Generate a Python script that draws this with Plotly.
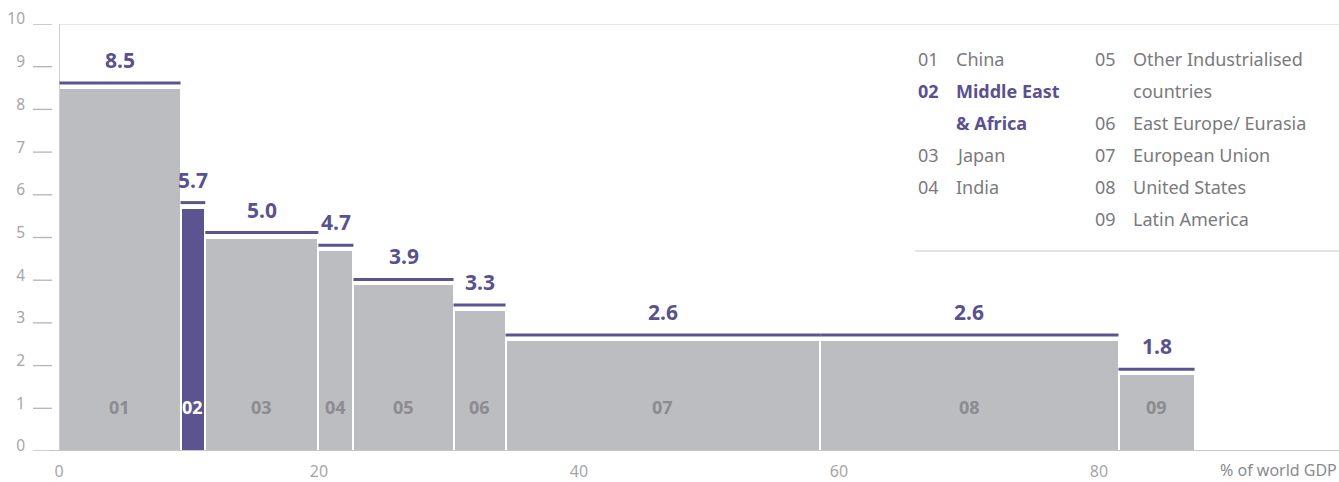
import numpy as np
import plotly.graph_objects as go

# Regional share of world GDP (bar widths) and value per region (bar heights)
codes = ["01", "02", "03", "04", "05", "06", "07", "08", "09"]
regions = ["China", "Middle East<br>& Africa", "Japan", "India",
           "Other Industrialised<br>countries", "East Europe/ Eurasia",
           "European Union", "United States", "Latin America"]
gdp_share = [9.35, 1.9, 8.7, 2.7, 7.7, 4.0, 24.2, 22.95, 5.85]
values = [8.5, 5.7, 5.0, 4.7, 3.9, 3.3, 2.6, 2.6, 1.8]
highlight = "02"

y_ticks = [0, 1, 2, 3, 4, 5, 6, 7, 8, 9, 10]
x_ticks = [0, 20, 40, 60, 80]
x_title = "% of world GDP"

GREY = "#bcbdc1"
PURPLE = "#5c5490"
TEXT_PURPLE = "#5a5190"
LABEL_GREY = "#8b8b90"
LEGEND_GREY = "#7a7a7e"
AXIS_GREY = "#b4b4b8"
FONT = "Noto Sans"

W, H = 1339, 482
ML, MR, MT, MB = 59, 0, 24, 31
PLOT_W = W - ML - MR
PX_PER_UNIT = 13.0
x_max = PLOT_W / PX_PER_UNIT

left = np.concatenate([[0], np.cumsum(gdp_share)[:-1]])
widths = np.array(gdp_share)
centers = left + widths / 2
colors = [PURPLE if c == highlight else GREY for c in codes]

fig = go.Figure()
fig.add_trace(go.Bar(
    x=centers, y=values, width=widths, base=0,
    marker=dict(color=colors, line=dict(color="white", width=2)),
    hoverinfo="skip", showlegend=False,
))

shapes = []
annotations = []

# purple cap line and value label over each bar, code label inside
for c, l, w, v, xc in zip(codes, left, widths, values, centers):
    shapes.append(dict(type="line", xref="x", yref="y", ysizemode="pixel",
                       yanchor=v, y0=5, y1=5, x0=l, x1=l + w,
                       line=dict(color=PURPLE, width=3)))
    annotations.append(dict(x=xc, y=v, xref="x", yref="y", yshift=28,
                            text=f"<b>{v:.1f}</b>", showarrow=False,
                            font=dict(family=FONT, size=21, color=TEXT_PURPLE)))
    annotations.append(dict(x=xc, y=1.03, xref="x", yref="y",
                            text=f"<b>{c}</b>", showarrow=False,
                            font=dict(family=FONT, size=18,
                                      color="white" if c == highlight else LABEL_GREY)))

# y tick dashes set apart from the axis line
for t in y_ticks:
    shapes.append(dict(type="line", xref="paper", yref="y",
                       x0=-26 / PLOT_W, x1=-7 / PLOT_W, y0=t, y1=t,
                       line=dict(color=AXIS_GREY, width=1.3)))

# frame: left axis, baseline, top rule
shapes.append(dict(type="line", xref="x", yref="y", x0=0, x1=0, y0=0, y1=10,
                   line=dict(color=AXIS_GREY, width=1.3)))
shapes.append(dict(type="line", xref="paper", yref="y", x0=-8 / PLOT_W, x1=1, y0=0, y1=0,
                   line=dict(color=AXIS_GREY, width=1.5)))
shapes.append(dict(type="line", xref="paper", yref="y", x0=0, x1=1, y0=10, y1=10,
                   line=dict(color="#cfcfd2", width=1.2)))


def px_x(px):
    return (px - ML) / PLOT_W


def px_y(py):
    return 1 - (py - MT) / (H - MT - MB)


# two-column key with a rule beneath
col_x = [(916, 954), (1093, 1131)]
row_y0, row_dy = 59, 32
columns = [range(0, 4), range(4, 9)]
for (xn, xt), idx in zip(col_x, columns):
    row = 0
    for i in idx:
        bold = codes[i] == highlight
        col = TEXT_PURPLE if bold else LEGEND_GREY
        lines = regions[i].split("<br>")
        for j, line in enumerate(lines):
            y = px_y(row_y0 + row_dy * row)
            if j == 0:
                annotations.append(dict(x=px_x(xn), y=y, xref="paper", yref="paper",
                                        xanchor="left", yanchor="middle", showarrow=False,
                                        text=f"<b>{codes[i]}</b>" if bold else codes[i],
                                        font=dict(family=FONT, size=18, color=col)))
            annotations.append(dict(x=px_x(xt), y=y, xref="paper", yref="paper",
                                    xanchor="left", yanchor="middle", showarrow=False,
                                    text=f"<b>{line}</b>" if bold else line,
                                    font=dict(family=FONT, size=18, color=col)))
            row += 1
shapes.append(dict(type="line", xref="paper", yref="paper",
                   x0=px_x(915), x1=1, y0=px_y(251), y1=px_y(251),
                   line=dict(color="#c8c8cb", width=1.2)))

annotations.append(dict(x=1, y=px_y(470), xref="paper", yref="paper",
                        xanchor="right", yanchor="middle", showarrow=False,
                        text=x_title, font=dict(family=FONT, size=16, color="#8a8a8e")))

fig.update_layout(
    width=W, height=H,
    margin=dict(l=ML, r=MR, t=MT, b=MB),
    plot_bgcolor="white", paper_bgcolor="white",
    bargap=0,
    shapes=shapes, annotations=annotations,
    xaxis=dict(range=[0, x_max], tickvals=x_ticks, showgrid=False, zeroline=False,
               showline=False, ticks="", ticklabelstandoff=9,
               tickfont=dict(family=FONT, size=16, color="#a6a6aa")),
    yaxis=dict(range=[0, 10], tickvals=y_ticks, showgrid=False, zeroline=False,
               showline=False, ticks="", ticklabelstandoff=33, ticklabelshift=-5,
               tickfont=dict(family=FONT, size=15.5, color="#a6a6aa")),
)

fig.write_html("out.html")
